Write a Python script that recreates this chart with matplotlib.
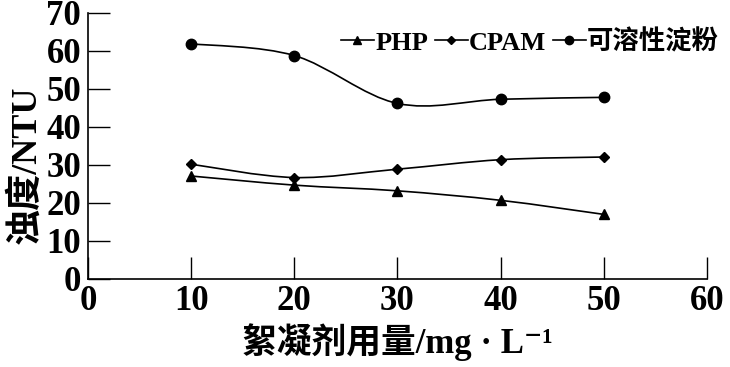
import matplotlib
matplotlib.use("Agg")
import matplotlib.pyplot as plt
import numpy as np
from matplotlib.path import Path
from matplotlib.patches import PathPatch
from matplotlib.lines import Line2D

plt.rcParams['font.family'] = ['Liberation Serif', 'Noto Sans CJK SC', 'DejaVu Serif']
plt.rcParams['font.weight'] = 'bold'

dose = [10, 20, 30, 40, 50]
php = [27.1, 24.7, 23.2, 20.7, 17.0]
cpam = [30.2, 26.7, 28.9, 31.4, 32.1]
starch = [61.9, 58.8, 46.2, 47.3, 47.8]
series_names = ["PHP", "CPAM", "可溶性淀粉"]
xticks = [0, 10, 20, 30, 40, 50, 60]
yticks = [0, 10, 20, 30, 40, 50, 60, 70]


def smooth_path(x, y):
    x = np.asarray(x, float)
    y = np.asarray(y, float)
    pts = np.column_stack([x, y])
    n = len(pts)
    verts = [pts[0]]
    codes = [Path.MOVETO]
    for i in range(n - 1):
        p0 = pts[i - 1] if i > 0 else pts[i]
        p1 = pts[i]
        p2 = pts[i + 1]
        p3 = pts[i + 2] if i + 2 < n else pts[i + 1]
        c1 = p1 + (p2 - p0) / 6.0
        c2 = p2 - (p3 - p1) / 6.0
        verts += [c1, c2, p2]
        codes += [Path.CURVE4] * 3
    return Path(verts, codes)


fig = plt.figure(figsize=(7.30, 3.67), dpi=100)
ax = fig.add_axes([0.1205, 0.2398, 0.848, 0.7248])

markers = ['^', 'D', 'o']
msizes = [7, 5, 7.5]
handles = []
for vals, m, ms, name in zip([php, cpam, starch], markers, msizes, series_names):
    ax.add_patch(PathPatch(smooth_path(dose, vals), facecolor='none',
                           edgecolor='black', lw=1.2, zorder=2))
    ax.plot(dose, vals, linestyle='none', marker=m, markersize=ms,
            color='black', zorder=3)
    handles.append(Line2D([], [], color='black', lw=1.2, marker=m,
                          markersize=ms * 0.8, label=name))

ax.set_xlim(0, 60)
ax.set_ylim(0, 70)
ax.set_xticks(xticks)
ax.set_yticks(yticks)
ax.spines['top'].set_visible(False)
ax.spines['right'].set_visible(False)
for s in ['left', 'bottom']:
    ax.spines[s].set_linewidth(1.2)
ax.tick_params(axis='both', direction='in', length=16, width=1.0,
               labelsize=25)
ax.tick_params(axis='y', pad=5)
ax.tick_params(axis='x', pad=4)

ax.set_ylabel("浊度/NTU", fontsize=26, fontweight='bold')
ax.yaxis.set_label_coords(-0.072, 0.43)
ax.set_xlabel("絮凝剂用量/mg · L⁻¹", fontsize=25, fontweight='bold',
              labelpad=4)

leg = ax.legend(handles=handles, loc='upper right', ncol=3, frameon=False,
                fontsize=19, handlelength=1.25, handletextpad=0.05,
                columnspacing=0.25, bbox_to_anchor=(1.045, 0.998),
                borderaxespad=0.2)

fig.savefig("out.png", dpi=100)
